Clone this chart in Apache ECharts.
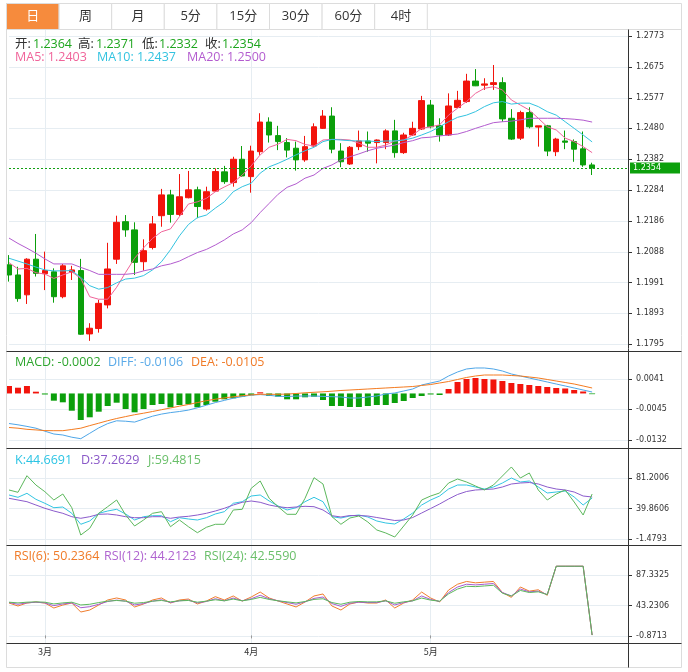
<!DOCTYPE html>
<html><head><meta charset="utf-8">
<script src="https://cdn.jsdelivr.net/npm/echarts@6/dist/echarts.min.js"></script>
<style>html,body{margin:0;padding:0;background:#fff;}#c{width:688px;height:672px;}</style>
</head><body><div id="c"></div>
<script>
// ---------- data ----------
const tabs = ['日','周','月','5分','15分','30分','60分','4时'];
const monthLabels = {4:'3月', 27:'4月', 47:'5月'};
const categories = Array.from({length:70}, (_, i) => 'd' + i);
// [open, close, low, high]
const ohlc = [
[1.2047,1.2015,1.1994,1.2078],[1.2015,1.1940,1.1930,1.2041],[1.1952,1.2065,1.1923,1.2068],[1.2065,1.2020,1.2010,1.2145],
[1.2019,1.2029,1.1967,1.2089],[1.2025,1.1946,1.1927,1.2036],[1.1946,1.2044,1.1941,1.2050],[1.2024,1.2031,1.1999,1.2044],
[1.2029,1.1827,1.1825,1.2066],[1.1828,1.1846,1.1806,1.1862],[1.1845,1.1925,1.1832,1.1936],[1.1920,1.2034,1.1909,1.2117],
[1.2065,1.2182,1.2050,1.2203],[1.2184,1.2158,1.2136,1.2205],[1.2158,1.2055,1.2015,1.2182],[1.2057,1.2092,1.2029,1.2128],
[1.2102,1.2177,1.2096,1.2202],[1.2203,1.2269,1.2168,1.2288],[1.2269,1.2207,1.2181,1.2285],[1.2207,1.2263,1.2202,1.2335],
[1.2260,1.2285,1.2258,1.2345],[1.2285,1.2232,1.2195,1.2295],[1.2224,1.2279,1.2219,1.2295],[1.2281,1.2343,1.2279,1.2353],
[1.2342,1.2311,1.2304,1.2361],[1.2308,1.2382,1.2295,1.2390],[1.2382,1.2329,1.2327,1.2424],[1.2327,1.2408,1.2276,1.2425],
[1.2406,1.2500,1.2396,1.2528],[1.2500,1.2459,1.2435,1.2515],[1.2457,1.2438,1.2411,1.2488],[1.2435,1.2411,1.2388,1.2449],
[1.2417,1.2380,1.2346,1.2438],[1.2380,1.2422,1.2374,1.2456],[1.2424,1.2485,1.2422,1.2496],[1.2480,1.2519,1.2478,1.2538],
[1.2519,1.2414,1.2401,1.2547],[1.2408,1.2374,1.2357,1.2433],[1.2367,1.2420,1.2364,1.2424],[1.2422,1.2440,1.2411,1.2473],
[1.2440,1.2433,1.2406,1.2470],[1.2435,1.2443,1.2369,1.2445],[1.2435,1.2472,1.2414,1.2477],[1.2472,1.2403,1.2387,1.2507],
[1.2403,1.2459,1.2399,1.2466],[1.2459,1.2480,1.2456,1.2501],[1.2478,1.2568,1.2475,1.2583],[1.2554,1.2485,1.2480,1.2570],
[1.2489,1.2459,1.2438,1.2512],[1.2459,1.2551,1.2456,1.2591],[1.2546,1.2569,1.2544,1.2599],[1.2565,1.2630,1.2561,1.2653],
[1.2630,1.2615,1.2614,1.2668],[1.2617,1.2621,1.2602,1.2639],[1.2619,1.2625,1.2602,1.2681],[1.2625,1.2510,1.2501,1.2642],
[1.2512,1.2446,1.2443,1.2541],[1.2449,1.2530,1.2443,1.2536],[1.2530,1.2485,1.2480,1.2547],[1.2484,1.2488,1.2422,1.2488],
[1.2488,1.2408,1.2392,1.2491],[1.2406,1.2446,1.2392,1.2450],[1.2440,1.2436,1.2414,1.2473],[1.2438,1.2414,1.2374,1.2445],
[1.2415,1.2364,1.2358,1.2470],[1.2364,1.2354,1.2332,1.2371]
];
const ma5 = [1.2054,1.2034,1.2036,1.2022,1.2018,1.2004,1.2015,1.2025,1.2004,1.1946,1.1938,1.1938,1.1976,1.2023,1.2068,1.2101,1.2131,1.2152,1.2161,1.2200,1.2240,1.2247,1.2258,1.2279,1.2294,1.2308,1.2332,1.2361,1.2396,1.2420,1.2430,1.2445,1.2441,1.2429,1.2424,1.2443,1.2445,1.2445,1.2443,1.2433,1.2420,1.2420,1.2427,1.2440,1.2443,1.2459,1.2480,1.2485,1.2491,1.2522,1.2544,1.2565,1.2591,1.2607,1.2612,1.2602,1.2570,1.2554,1.2538,1.2512,1.2485,1.2475,1.2449,1.2438,1.2422,1.2403];
const ma10 = [1.2068,1.2059,1.2050,1.2040,1.2031,1.2028,1.2028,1.2029,1.2007,1.1981,1.1970,1.1975,1.1990,1.2002,1.2005,1.2013,1.2031,1.2057,1.2095,1.2139,1.2175,1.2197,1.2205,1.2227,1.2247,1.2279,1.2295,1.2306,1.2338,1.2358,1.2369,1.2382,1.2396,1.2409,1.2420,1.2438,1.2445,1.2443,1.2441,1.2440,1.2440,1.2438,1.2440,1.2440,1.2443,1.2449,1.2459,1.2470,1.2485,1.2501,1.2515,1.2522,1.2533,1.2549,1.2561,1.2565,1.2557,1.2560,1.2560,1.2549,1.2533,1.2522,1.2501,1.2480,1.2459,1.2437];
const ma20 = [1.2132,1.2115,1.2100,1.2084,1.2066,1.2050,1.2050,1.2050,1.2039,1.2029,1.2017,1.2017,1.2017,1.2017,1.2020,1.2028,1.2034,1.2044,1.2050,1.2059,1.2073,1.2086,1.2096,1.2110,1.2126,1.2145,1.2158,1.2181,1.2213,1.2242,1.2271,1.2293,1.2304,1.2322,1.2332,1.2353,1.2364,1.2380,1.2390,1.2399,1.2409,1.2417,1.2422,1.2427,1.2435,1.2441,1.2450,1.2452,1.2456,1.2459,1.2462,1.2470,1.2480,1.2489,1.2498,1.2501,1.2503,1.2507,1.2512,1.2512,1.2512,1.2512,1.2511,1.2509,1.2506,1.2500];
const macd = [0.00212,0.00163,0.00212,0.00050,-0.00029,-0.00205,-0.00251,-0.00489,-0.00753,-0.00676,-0.00517,-0.00356,-0.00262,-0.00441,-0.00534,-0.00441,-0.00327,-0.00299,-0.00393,-0.00327,-0.00307,-0.00393,-0.00327,-0.00234,-0.00166,-0.00137,-0.00092,-0.00052,0.00033,-0.00072,-0.00092,-0.00166,-0.00166,-0.00109,-0.00092,-0.00185,-0.00356,-0.00356,-0.00384,-0.00384,-0.00356,-0.00327,-0.00327,-0.00271,-0.00214,-0.00129,-0.00072,-0.00029,-0.00044,0.00126,0.00325,0.00410,0.00438,0.00410,0.00396,0.00353,0.00297,0.00268,0.00240,0.00212,0.00183,0.00155,0.00141,0.00098,0.00056,-0.0002];
const diff = [-0.00852,-0.00889,-0.00934,-0.00985,-0.01070,-0.01150,-0.01178,-0.01241,-0.01283,-0.01130,-0.00977,-0.00855,-0.00775,-0.00787,-0.00812,-0.00727,-0.00645,-0.00585,-0.00543,-0.00512,-0.00472,-0.00407,-0.00333,-0.00259,-0.00197,-0.00135,-0.00089,-0.00047,-0.00032,-0.00052,-0.00081,-0.00086,-0.00075,-0.00072,-0.00072,-0.00083,-0.00092,-0.00100,-0.00129,-0.00129,-0.00100,-0.00072,-0.00015,0.00013,0.00070,0.00126,0.00240,0.00297,0.00353,0.00495,0.00609,0.00694,0.00722,0.00722,0.00694,0.00637,0.00552,0.00495,0.00438,0.00382,0.00325,0.00268,0.00212,0.00155,0.00098,0.00041];
const dea = [-0.00965,-0.00985,-0.01017,-0.01034,-0.01053,-0.01056,-0.01056,-0.01022,-0.00985,-0.00912,-0.00844,-0.00773,-0.00710,-0.00656,-0.00603,-0.00560,-0.00512,-0.00461,-0.00412,-0.00361,-0.00313,-0.00259,-0.00205,-0.00163,-0.00126,-0.00095,-0.00064,-0.00041,-0.00024,-0.00024,-0.00024,-0.00018,-0.00001,0.00019,0.00033,0.00047,0.00064,0.00084,0.00098,0.00112,0.00126,0.00141,0.00155,0.00169,0.00183,0.00197,0.00226,0.00254,0.00297,0.00339,0.00396,0.00453,0.00495,0.00523,0.00523,0.00523,0.00509,0.00495,0.00467,0.00438,0.00396,0.00353,0.00311,0.00268,0.00212,0.00155];
const kLine = [58.16,55.04,60.46,52.33,46.91,40.94,41.89,33.35,18.45,22.92,33.35,36.47,38.78,32.41,24.27,28.75,30.10,30.10,21.97,27.39,25.63,24.27,27.39,32.41,35.52,46.91,49.08,56.80,58.16,50.03,43.25,37.83,40.94,49.08,55.04,49.08,28.75,26.98,29.69,31.05,28.34,22.92,20.21,18.85,25.63,33.76,44.60,51.38,56.80,66.29,71.71,71.71,69.00,66.29,69.00,74.42,81.20,75.78,77.13,69.00,60.87,62.22,63.58,55.45,44.60,54.09];
const dLine = [53.69,51.38,49.08,44.60,40.13,36.47,33.35,28.75,26.58,28.75,32.00,32.41,31.05,28.75,27.39,27.39,28.75,28.75,26.58,28.34,29.29,31.05,33.35,36.47,40.13,44.60,48.26,50.03,48.26,44.60,42.30,40.94,41.89,42.84,42.30,37.83,30.10,28.34,30.37,30.37,29.69,27.66,25.63,23.60,24.27,27.66,33.76,39.86,45.96,52.74,58.84,62.90,64.94,65.61,66.29,69.00,73.07,74.42,75.10,73.07,69.00,66.29,64.94,62.22,56.80,55.45];
const jLine = [64.94,61.82,84.32,71.71,62.63,51.38,59.51,40.94,3.94,13.02,33.35,42.30,51.38,31.05,16.14,24.27,33.35,35.52,15.19,24.27,15.19,7.06,14.38,18.45,18.45,37.83,38.78,67.24,77.13,53.69,42.30,32.00,32.00,53.69,81.61,73.07,28.75,18.45,26.98,29.69,21.56,10.72,6.65,1.23,16.14,31.05,51.38,56.80,60.87,74.42,79.84,75.78,70.36,64.94,71.71,83.91,96.11,81.20,87.98,64.94,51.38,59.51,64.94,48.67,31.05,59.48];
const rsi6 = [46.8,42.5,46.8,48.3,46.8,39.6,43.9,46.8,33.8,36.7,43.9,51.2,54.1,51.2,41.1,45.4,51.2,54.1,46.8,51.2,52.6,45.4,49.7,56.0,51.2,57.0,49.7,55.5,62.7,54.1,49.7,45.4,41.1,48.3,57.0,59.9,42.5,36.7,45.4,48.3,46.8,46.8,51.2,39.6,46.8,51.2,62.7,54.1,48.3,65.6,74.0,78.0,76.0,77.0,78.0,62.0,55.0,70.0,64.0,66.0,58.0,100,100,100,100,0.5];
const rsi12 = [47.5,45,47,48,47,43,45.5,47,40,41.5,45,49,51,49.5,44,46,49.5,51.5,47.5,50,51,47,49,53,50,54,50,53,58,53,50,47.5,45,48.5,53.5,55.5,46,42,46.5,48,47.5,47.5,50,44,47.5,50,57,52,49,62,70,74,73,74,75,62,57,67,63,64,59,100,100,100,100,0.5];
const rsi24 = [48,47,48,48.5,48,45.5,47,48,44,45,47.5,49.5,50.5,49.5,46.5,47.5,49.5,50.5,48.5,50,50.5,48,49.5,51.5,50,52.5,50,52,55,52,50,48.5,47,49,52,53,47.5,45,48,49,48.5,48.5,50,46.5,48.5,50,54,51,49.5,60,67,71,70.5,71.5,72.5,61,57,65,62,63,59,100,100,100,100,0.5];
const priceTicks = [1.1795,1.1893,1.1991,1.2088,1.2186,1.2284,1.2382,1.2480,1.2577,1.2675,1.2773];
const macdTicks = [-0.0132,-0.0045,0.0041];
const kdjTicks = [-1.4793,39.8606,81.2006];
const rsiTicks = [-0.8713,43.2306,87.3325];
const lastClose = 1.2354;

// ---------- chart ----------
const chart = echarts.init(document.getElementById('c'), null, {renderer:'canvas'});
const FONT = "'Microsoft YaHei','Open Sans','Noto Sans CJK SC',sans-serif";
const RED = '#f2140c', GREEN = '#0b9f0b';
const isMonth = (i) => monthLabels[i] !== undefined;
const L = 9, W = 619;
const grids = [
  {left:L, top:30, width:W, height:321},
  {left:L, top:352, width:W, height:96},
  {left:L, top:449, width:W, height:96},
  {left:L, top:546, width:W, height:97}
];
function xAx(gi, last){
  return {type:'category', gridIndex:gi, data:categories, boundaryGap:false,
    axisLine:{show:false},
    axisTick:{show:last, interval:(i)=>isMonth(i), length:3, lineStyle:{color:'#999'}},
    axisLabel:{show:last, interval:(i)=>isMonth(i), formatter:(v,i)=>monthLabels[i]||'', color:'#333', fontSize:9, fontFamily:"'Noto Sans CJK SC',sans-serif", margin:4},
    splitLine:{show:true, interval:(i)=>isMonth(i), lineStyle:{color:'#e6edf2', width:1}}
  };
}
function yAx(gi, min, max, ticks){
  return {type:'value', gridIndex:gi, position:'right', min:min, max:max,
    axisLine:{show:false},
    axisTick:{show:true, customValues:ticks, length:4, lineStyle:{color:'#333'}},
    axisLabel:{show:true, customValues:ticks, formatter:(v)=>v.toFixed(4), color:'#333', fontSize:8, fontFamily:'DejaVu Sans', margin:8},
    splitLine:{show:true, lineStyle:{color:'#e6edf2', width:1}}
  };
}
function lineS(name, xi, data, color, extra){
  return Object.assign({name:name, type:'line', xAxisIndex:xi, yAxisIndex:xi, data:data, symbol:'none', smooth:false,
    lineStyle:{color:color, width:1}, itemStyle:{color:color}, silent:true}, extra || {});
}
const graphics = [];
graphics.push({type:'rect', shape:{x:6.5,y:3.5,width:675,height:664}, style:{fill:'none', stroke:'#dcdcdc', lineWidth:1}, z:100});
graphics.push({type:'line', shape:{x1:6.5,y1:29.5,x2:681.5,y2:29.5}, style:{stroke:'#dcdcdc', lineWidth:1}, z:100});
const tabW = 52.6;
tabs.forEach((t, i) => {
  const x = 6.5 + i * tabW;
  graphics.push({type:'rect', shape:{x:x, y:3.5, width:tabW, height:26}, style:{fill: i===0 ? '#f68b3d' : '#fff', stroke:'#dcdcdc', lineWidth:1}, z:101});
  graphics.push({type:'text', style:{x:x + tabW/2, y:16.5, text:t, fill: i===0 ? '#fff' : '#333', font:'13px ' + FONT, align:'center', verticalAlign:'middle'}, z:102});
});
[351.5, 448.5, 545.5, 643.5].forEach(y => graphics.push({type:'line', shape:{x1:6.5,y1:y,x2:681.5,y2:y}, style:{stroke:'#333', lineWidth:1}, z:100}));
graphics.push({type:'line', shape:{x1:628.5,y1:29.5,x2:628.5,y2:667.5}, style:{stroke:'#333', lineWidth:1}, z:100});
function txt(x, y, s, color){ graphics.push({type:'text', style:{x:x, y:y, text:s, fill:color, font:'12.5px ' + FONT, verticalAlign:'middle'}, z:103}); }
const o = ohlc[ohlc.length-1];
txt(15,44,'开:','#333'); txt(33,44,o[0].toFixed(4),'#1da51d');
txt(78,44,'高:','#333'); txt(96,44,o[3].toFixed(4),'#1da51d');
txt(142,44,'低:','#333'); txt(159,44,o[2].toFixed(4),'#1da51d');
txt(205,44,'收:','#333'); txt(222,44,o[1].toFixed(4),'#1da51d');
txt(15,57,'MA5: ' + ma5[ma5.length-1].toFixed(4),'#f0649a');
txt(97,57,'MA10: ' + ma10[ma10.length-1].toFixed(4),'#33c3e0');
txt(187,57,'MA20: ' + ma20[ma20.length-1].toFixed(4),'#b35ccf');
txt(15,362,'MACD: -0.0002','#2ea52e');
txt(108,362,'DIFF: -0.0106','#5aaae8');
txt(191,362,'DEA: -0.0105','#f07b28');
txt(15,460,'K:44.6691','#2cc4e4');
txt(81,460,'D:37.2629','#8a58c8');
txt(148,460,'J:59.4815','#6abf6a');
txt(14,556,'RSI(6): 50.2364','#f07b28');
txt(104,556,'RSI(12): 44.2123','#b064d0');
txt(204,556,'RSI(24): 42.5590','#6abf6a');

chart.setOption({
  animation:false,
  backgroundColor:'#fff',
  grid:grids,
  xAxis:[xAx(0,false), xAx(1,false), xAx(2,false), xAx(3,true)],
  yAxis:[yAx(0,1.17738,1.27920,priceTicks), yAx(1,-0.015468,0.011757,macdTicks), yAx(2,-9.611,120.507,kdjTicks), yAx(3,-10.994,129.265,rsiTicks)],
  series:[
    {type:'candlestick', xAxisIndex:0, yAxisIndex:0, data:ohlc, barWidth:6, clip:false, silent:true,
      itemStyle:{color:RED, color0:GREEN, borderColor:RED, borderColor0:GREEN, borderWidth:1}},
    lineS('MA5',0,ma5,'#f0649a', {markLine:{silent:true, symbol:'none', precision:4, data:[{yAxis:lastClose}],
        lineStyle:{color:'#12a012', type:[2,2], width:1},
        label:{show:true, position:'end', distance:2, formatter:()=>lastClose.toFixed(4), color:'#fff', backgroundColor:'#0ca00c', padding:[2,19,1,3], fontSize:8, fontFamily:'DejaVu Sans'}}}),
    lineS('MA10',0,ma10,'#33c3e0'),
    lineS('MA20',0,ma20,'#b35ccf'),
    {type:'bar', xAxisIndex:1, yAxisIndex:1, data:macd, barWidth:6, silent:true,
      itemStyle:{color:(p)=> p.value >= 0 ? RED : GREEN}},
    lineS('DIFF',1,diff,'#4ea6e8'),
    lineS('DEA',1,dea,'#f47b20'),
    lineS('K',2,kLine,'#32c5e2'),
    lineS('D',2,dLine,'#8b5bcc'),
    lineS('J',2,jLine,'#5cb85c'),
    lineS('RSI6',3,rsi6,'#f07d2e'),
    lineS('RSI12',3,rsi12,'#a55cd0'),
    lineS('RSI24',3,rsi24,'#5cb85c')
  ],
  graphic:graphics
});
</script></body></html>
